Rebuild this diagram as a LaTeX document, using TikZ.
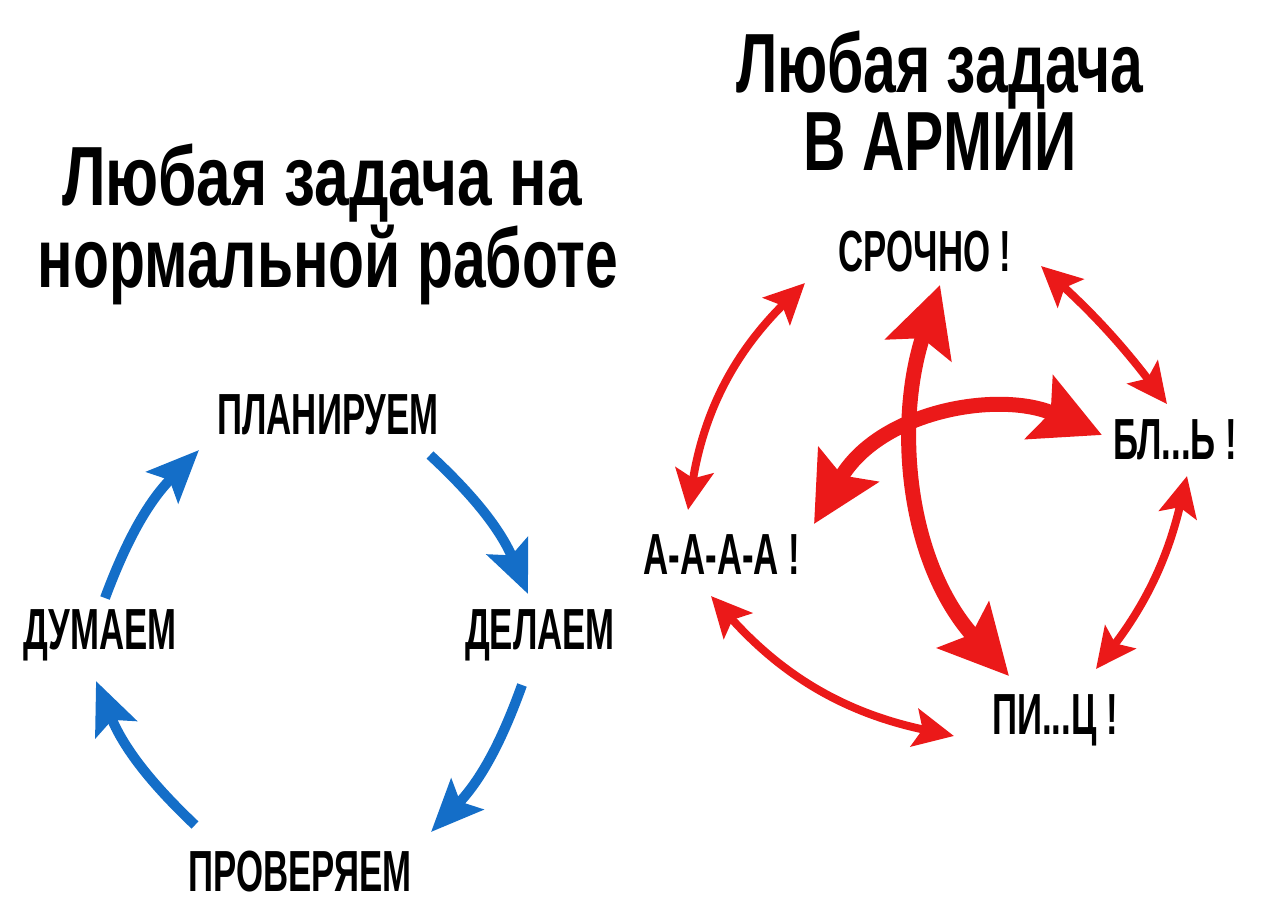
\documentclass[tikz,border=0pt]{standalone}
\usepackage{fontspec}
\setmainfont{Liberation Sans}
\usetikzlibrary{arrows.meta}
\definecolor{bl}{RGB}{20,110,200}
\definecolor{rd}{RGB}{235,25,25}
\tikzset{
 ttl/.style={font=\bfseries\fontsize{42}{42}\selectfont, inner sep=0},
 lbl/.style={font=\bfseries\fontsize{29}{29}\selectfont, inner sep=0},
 barr/.style={draw=bl, line width=5pt, -{Stealth[length=26pt,width=22pt,inset=5pt]}},
 rarr/.style={draw=rd, line width=4pt, {Stealth[length=20pt,width=19pt,inset=4pt]}-{Stealth[length=20pt,width=19pt,inset=4pt]}},
 rbig/.style={draw=rd, line width=7.5pt, {Stealth[length=34pt,width=34pt,inset=6pt]}-{Stealth[length=34pt,width=34pt,inset=6pt]}},
}
\begin{document}
\begin{tikzpicture}[x=0.5pt,y=-0.5pt]
\useasboundingbox[fill=white] (0,0) rectangle (1280,912);
\node[ttl] (t1) at (322,183) {\scalebox{0.74}[1]{Любая задача на}};
\node[ttl] (t2) at (328,265) {\scalebox{0.7}[1]{нормальной работе}};
\node[ttl] (t3) at (940,70) {\scalebox{0.7}[1]{Любая задача}};
\node[ttl] (t4) at (940,142) {\scalebox{0.7}[1]{В АРМИИ}};
\node[lbl] (p) at (328,415) {\scalebox{0.6}[1]{ПЛАНИРУЕМ}};
\node[lbl] (d) at (100,635) {\scalebox{0.6}[1]{ДУМАЕМ}};
\node[lbl] (e) at (540,635) {\scalebox{0.6}[1]{ДЕЛАЕМ}};
\node[lbl] (v) at (300,872) {\scalebox{0.6}[1]{ПРОВЕРЯЕМ}};
\node[lbl] (s) at (925,252) {\scalebox{0.6}[1]{СРОЧНО !}};
\node[lbl] (b) at (1175,440) {\scalebox{0.6}[1]{БЛ...Ь !}};
\node[lbl] (a) at (722,555) {\scalebox{0.6}[1]{А-А-А-А !}};
\node[lbl] (c) at (1055,720) {\scalebox{0.6}[1]{ПИ...Ц !}};
\coordinate (b1s) at (105,598); \coordinate (b1e) at (199,450);
\coordinate (b2s) at (430,455); \coordinate (b2e) at (528,594);
\coordinate (b3s) at (522,685); \coordinate (b3e) at (431,832);
\coordinate (b4s) at (195,825); \coordinate (b4e) at (96,681);
\draw[barr] (b1s) to[bend left=12] (b1e);
\draw[barr] (b2s) to[bend left=12] (b2e);
\draw[barr] (b3s) to[bend left=12] (b3e);
\draw[barr] (b4s) to[bend left=12] (b4e);
\coordinate (r1s) at (805,283); \coordinate (r1e) at (688,510);
\coordinate (r2s) at (1041,266); \coordinate (r2e) at (1167,404);
\coordinate (r3s) at (1187,476); \coordinate (r3e) at (1096,669);
\coordinate (r4s) at (711,596); \coordinate (r4e) at (954,736);
\draw[rarr] (r1s) to[bend right=18] (r1e);
\draw[rarr] (r2s) to[bend left=5] (r2e);
\draw[rarr] (r3s) to[bend left=12] (r3e);
\draw[rarr] (r4s) to[bend right=18] (r4e);
\coordinate (g1s) at (940,285); \coordinate (g1e) at (1009,676);
\coordinate (g2s) at (1102,435); \coordinate (g2e) at (814,524);
\draw[rbig] (g1s) .. controls (895,420) and (905,560) .. (g1e);
\draw[rbig] (g2s) .. controls (1000,390) and (880,410) .. (g2e);
\end{tikzpicture}
\end{document}
